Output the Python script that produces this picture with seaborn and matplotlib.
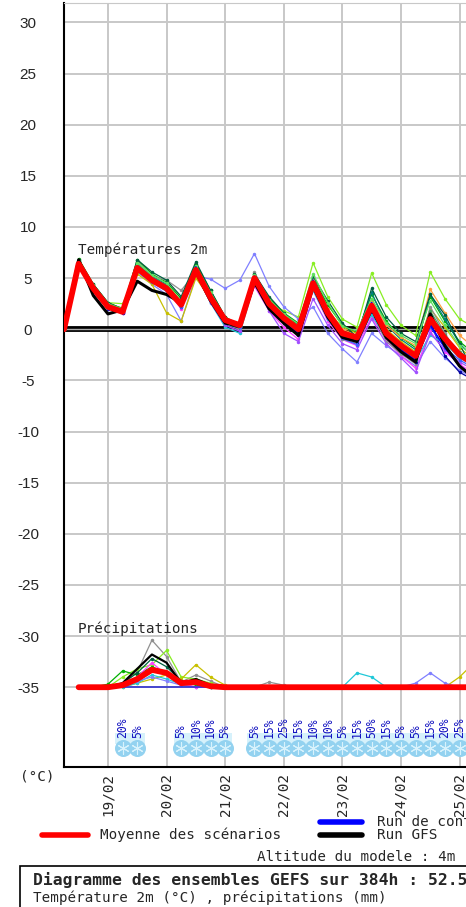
import numpy as np
import pandas as pd
import matplotlib
matplotlib.use("Agg")
import matplotlib.pyplot as plt
from matplotlib.patches import Rectangle
import seaborn as sns

# 6-hourly steps from 18/02 06h, in hours
hours = list(range(6, 180, 6))  # 29 steps

# 2m temperature (degC)
t_mean = [0, 6.4, 4.0, 2.2, 1.7, 6.0, 4.8, 4.0, 2.4, 5.8, 3.1, 0.9, 0.4, 5.0, 2.5,
          1.1, 0.0, 4.5, 1.6, -0.4, -0.8, 2.3, -0.4, -1.6, -2.6, 1.0, -0.9, -2.5, -3.4]
t_gfs = [0, 6.8, 3.3, 1.5, 1.9, 4.7, 3.8, 3.4, 2.6, 5.6, 2.8, 0.6, 0.3, 4.6, 2.0,
         0.6, -0.6, 4.2, 1.2, -0.8, -1.2, 2.0, -0.8, -2.2, -3.2, 1.5, -1.6, -3.6, -4.8]
t_ctrl = [0, 6.6, 3.9, 2.0, 1.8, 6.2, 5.0, 4.2, 2.2, 6.1, 3.0, 0.6, 0.2, 5.2, 2.4,
          0.8, -0.4, 4.8, 1.4, -0.6, -1.0, 2.6, -0.8, -2.0, -3.0, 0.4, -1.8, -3.6, -4.6]

t_members = {
    "p01": [0, 6.6, 4.0, 2.6, 2.5, 5.6, 4.6, 3.8, 2.8, 5.2, 2.8, 0.8, 0.6, 4.6, 2.6,
            1.8, 1.2, 6.5, 3.2, 1.0, 0.2, 5.5, 2.4, 0.4, -0.6, 5.6, 3.0, 1.0, 0.2],
    "p02": [0, 6.2, 3.6, 2.0, 1.6, 5.6, 4.4, 3.4, 0.8, 5.2, 4.9, 4.0, 4.8, 7.4, 4.2,
            2.2, 1.0, 2.2, -0.4, -1.9, -3.2, -0.4, -1.6, -2.6, -3.6, -1.2, -2.8, -4.0, -4.8],
    "p03": [0, 6.9, 4.4, 2.6, 2.0, 6.8, 5.4, 4.6, 3.0, 6.4, 3.8, 1.2, 0.4, 5.4, 3.0,
            1.6, 0.6, 5.0, 2.4, 0.4, -0.4, 3.4, 0.8, -0.8, -1.8, 3.2, 0.8, -1.2, -2.4],
    "p04": [0, 6.3, 3.8, 2.2, 1.6, 5.8, 4.6, 3.8, 2.0, 5.4, 2.8, 0.6, 0.2, 4.2, 1.8,
            0.2, -1.0, 3.8, 0.8, -1.0, -1.6, 1.2, -1.0, -2.6, -3.8, -0.2, -2.2, -3.4, -4.4],
    "p05": [0, 6.7, 4.2, 2.4, 1.8, 6.4, 5.2, 4.4, 2.6, 6.0, 3.4, 1.0, 0.4, 5.0, 2.8,
            1.2, 0.2, 5.0, 2.0, -0.2, -0.6, 3.6, 0.4, -1.0, -2.0, 3.4, 1.0, -1.4, -2.8],
    "p06": [0, 6.2, 4.0, 2.4, 2.1, 5.4, 4.4, 1.6, 0.8, 5.0, 3.0, 0.8, 0.6, 4.8, 2.6,
            1.4, 0.4, 4.0, 1.8, 0.2, -0.4, 2.0, 0.0, -1.2, -2.2, 2.0, 0.2, -1.8, -3.0],
    "p07": [0, 6.5, 4.2, 2.4, 1.8, 6.6, 5.2, 4.8, 3.8, 5.6, 2.8, 0.4, 0.0, 5.6, 2.8,
            0.8, -0.6, 4.6, 1.2, -1.0, -1.4, 1.6, -1.2, -2.4, -3.4, 2.2, -0.4, -2.6, -3.8],
    "p08": [0, 6.4, 3.8, 2.0, 1.6, 6.0, 4.8, 4.0, 2.2, 5.8, 2.8, 0.4, -0.2, 4.8, 2.2,
            0.6, -0.6, 4.4, 1.4, -0.6, -1.2, 1.6, -0.8, -2.0, -3.2, 0.6, -2.6, -4.2, -5.0],
    "p09": [0, 6.6, 4.0, 2.2, 1.8, 6.2, 5.0, 4.2, 2.4, 5.6, 2.6, 0.2, -0.4, 4.4, 2.2,
            0.8, -0.4, 3.8, 1.0, -0.8, -0.8, 1.4, -0.8, -2.2, -3.0, -0.6, -1.4, -2.8, -3.6],
    "p10": [0, 6.5, 3.9, 2.2, 1.8, 6.1, 4.9, 4.1, 2.6, 5.9, 3.2, 1.0, 0.6, 5.1, 2.6,
            1.4, 0.4, 4.8, 2.0, 0.0, -0.6, 2.8, 0.4, -0.8, -1.6, 3.9, 1.6, -0.6, -1.8],
    "p11": [0, 6.8, 4.4, 2.6, 2.0, 6.8, 5.6, 4.8, 3.2, 6.6, 3.8, 1.2, 0.2, 5.4, 3.2,
            1.6, 0.4, 5.2, 2.8, 0.6, -0.8, 4.0, 1.2, -0.4, -1.2, 3.4, 1.4, -1.4, -4.4],
    "p12": [0, 6.3, 3.7, 2.1, 1.7, 5.9, 4.7, 3.9, 2.3, 5.5, 2.6, 0.4, -0.2, 4.6, 1.8,
            -0.4, -1.2, 3.0, 0.4, -1.4, -2.0, 1.0, -1.4, -2.8, -4.2, -0.4, -2.0, -3.2, -4.0],
    "p13": [0, 6.5, 4.1, 2.3, 1.9, 6.3, 5.1, 4.3, 2.5, 6.0, 3.3, 0.8, 0.3, 4.9, 2.4,
            1.0, -0.2, 4.3, 1.5, -0.5, -1.0, 2.4, -0.2, -1.4, -2.4, 1.8, -0.6, -2.2, -3.2],
    "p14": [0, 6.4, 3.9, 2.1, 1.7, 5.7, 4.6, 3.7, 2.2, 5.7, 3.0, 0.7, 0.2, 4.7, 2.3,
            0.9, -0.3, 4.1, 1.1, -0.9, -1.5, 1.8, -0.6, -1.8, -2.8, 0.2, -1.8, -3.0, -3.8],
    "p15": [0, 6.7, 4.3, 2.5, 2.0, 6.5, 5.3, 4.5, 2.7, 6.2, 3.6, 1.1, 0.5, 5.3, 2.9,
            1.5, 0.5, 5.4, 2.6, 0.3, -0.2, 3.0, 0.6, -0.6, -1.4, 2.8, 0.4, -1.6, -2.6],
}
member_colors = {
    "p01": "#88ee22", "p02": "#8080ff", "p03": "#00b000", "p04": "#ff40ff",
    "p05": "#008080", "p06": "#c8c000", "p07": "#909090", "p08": "#0000a0",
    "p09": "#20c8d8", "p10": "#ffa040", "p11": "#006040", "p12": "#a050ff",
    "p13": "#40a060", "p14": "#4060ff", "p15": "#60e060",
}

# precipitation (mm), from 18/02 12h onward (idx 1..28)
p_mean = [0, 0, 0, 0.2, 0.8, 1.7, 1.4, 0.4, 0.5, 0.1, 0, 0, 0, 0,
          0, 0, 0, 0, 0, 0, 0, 0, 0, 0, 0, 0, 0, 0]
p_gfs = [0, 0, 0, 0.4, 1.8, 3.2, 2.4, 0.4, 0.8, 0.2, 0, 0, 0, 0,
         0, 0, 0, 0, 0, 0, 0, 0, 0, 0, 0, 0, 0, 0]
p_members = {
    "p07": [0, 0, 0, 0.3, 1.5, 4.6, 3.0, 0.5, 1.2, 0.6, 0, 0, 0, 0.5,
            0.2, 0, 0, 0, 0, 0, 0, 0, 0, 0, 0, 0, 0, 0],
    "p01": [0, 0, 0, 1.0, 1.8, 2.2, 3.6, 1.0, 0.8, 0.4, 0, 0, 0, 0,
            0, 0, 0, 0, 0, 0, 0, 0, 0, 0, 0, 0, 0, 0],
    "p06": [0, 0, 0, 0, 0.4, 0.8, 1.2, 0.8, 2.2, 1.0, 0.2, 0, 0, 0,
            0, 0, 0, 0, 0, 0, 0, 0, 0, 0, 0, 0, 1.0, 2.4],
    "p09": [0, 0, 0, 0, 0.4, 1.2, 0.8, 0.3, 0, 0, 0, 0, 0, 0,
            0, 0, 0, 0, 0, 1.4, 1.0, 0, 0, 0, 0, 0, 0, 0],
    "p02": [0, 0, 0, 0.2, 0.6, 1.0, 0.6, 0.2, 0, 0, 0, 0, 0, 0,
            0, 0, 0, 0, 0, 0, 0, 0, 0, 0.4, 1.4, 0.4, 0, 0],
    "p03": [0, 0, 0.3, 1.6, 1.2, 2.0, 1.4, 0.6, 0.2, 0, 0, 0, 0, 0,
            0, 0, 0, 0, 0, 0, 0, 0, 0, 0, 0, 0, 0, 0],
    "p04": [0, 0, 0, 0.2, 1.0, 2.4, 1.2, 0.4, 0, 0, 0, 0, 0, 0,
            0, 0, 0, 0, 0, 0, 0, 0, 0, 0, 0, 0, 0, 0],
    "p11": [0, 0, 0, 0.4, 1.4, 2.8, 2.0, 0.6, 0.4, 0, 0, 0, 0, 0,
            0, 0, 0, 0, 0, 0, 0, 0, 0, 0, 0, 0, 0, 0],
}
p_offset = -35

# snow probability (idx in 6h steps, percent)
snow_idx = [4, 5, 8, 9, 10, 11, 13, 14, 15, 16, 17, 18, 19, 20, 21, 22, 23, 24, 25, 26, 27]
snow_pct = [20, 5, 5, 10, 10, 5, 5, 15, 25, 15, 10, 10, 5, 15, 50, 15, 5, 5, 15, 20, 25]

day_ticks = [1, 2, 3, 4, 5, 6, 7]
day_labels = ["19/02", "20/02", "21/02", "22/02", "23/02", "24/02", "25/02"]
y_ticks = list(range(-35, 31, 5))

W, H = 466, 907
days = [h / 24 for h in hours]

sns.set_style("white")
plt.rcParams["font.family"] = ["DejaVu Sans Mono"]
mono = "DejaVu Sans Mono"

fig = plt.figure(figsize=(W / 100, H / 100), dpi=100)
ax = fig.add_axes([64 / W, 1 - 767 / H, 1 - 64 / W, 764 / H])

# long tables for seaborn
rows = []
for name, vals in t_members.items():
    for d, v in zip(days, vals):
        rows.append((name, d, v))
df_t = pd.DataFrame(rows, columns=["member", "day", "value"])
rows = []
for name, vals in p_members.items():
    for d, v in zip(days[1:], vals):
        rows.append((name, d, v + p_offset))
df_p = pd.DataFrame(rows, columns=["member", "day", "value"])

ax.axhline(0, color="black", lw=4.2, zorder=1)
ax.axhline(0, color="#aaaaaa", lw=1.0, zorder=1)

for df in (df_t, df_p):
    sns.lineplot(data=df, x="day", y="value", hue="member", palette=member_colors,
                 marker="o", markersize=2.5, markeredgewidth=0, lw=0.9,
                 legend=False, ax=ax, zorder=2)

sns.lineplot(x=days[1:], y=[p_offset] * 28, color="#3030d0", lw=1.2, ax=ax, zorder=2)
sns.lineplot(x=days, y=t_ctrl, color="#0000ff", lw=1.2, ax=ax, zorder=3)
sns.lineplot(x=days, y=t_gfs, color="black", lw=2.2, ax=ax, zorder=3)
sns.lineplot(x=days[1:], y=[v + p_offset for v in p_gfs], color="black", lw=1.6,
             ax=ax, zorder=3)
sns.lineplot(x=days, y=t_mean, color="#ff0000", lw=4.2, ax=ax, zorder=4)
sns.lineplot(x=days[1:], y=[v + p_offset for v in p_mean], color="#ff0000", lw=4.2,
             ax=ax, zorder=4)

# snow band and flakes
groups = []
for i in snow_idx:
    if groups and i == groups[-1][-1] + 1:
        groups[-1].append(i)
    else:
        groups.append([i])
for g in groups:
    x0 = days[g[0]] - 0.125
    ax.add_patch(Rectangle((x0, -40.6), len(g) * 0.25, 1.1, color="#d6f1fb",
                           lw=0, zorder=1))
sx = [days[i] for i in snow_idx]
ax.scatter(sx, [-40.9] * len(sx), s=150, color="#93d2f0", lw=0, zorder=2)
ax.scatter(sx, [-40.9] * len(sx), s=70, marker=(6, 2, 0), color="#d8f2fc",
           lw=0.8, zorder=3)
for x, p in zip(sx, snow_pct):
    ax.text(x, -40.0, f"{p}%", rotation=90, ha="center", va="bottom",
            fontsize=8.3, color="#1010c0", family=mono, zorder=4)

ax.set_xlim(0.25, 0.25 + (W - 64) / 58.6)
ax.set_ylim(-42.8, 31.9)
ax.set_xticks(day_ticks)
ax.set_xticklabels(day_labels, rotation=90, family=mono, fontsize=10.3, va="top")
ax.set_yticks(y_ticks)
ax.set_yticklabels([str(v) for v in y_ticks], family="Liberation Sans", fontsize=11)
for lab in ax.get_yticklabels():
    lab.set_ha("center")
ax.tick_params(axis="y", length=0, pad=26)
ax.tick_params(axis="x", length=0, pad=4)
ax.grid(True, color="#c8c8c8", lw=1.4)
ax.set_axisbelow(True)
ax.set_xlabel("")
ax.set_ylabel("")
ax.spines["right"].set_visible(False)
ax.spines["top"].set_color("#c8c8c8")
ax.spines["left"].set_color("black")
ax.spines["left"].set_linewidth(1.5)
ax.spines["bottom"].set_color("black")
ax.spines["bottom"].set_linewidth(1.5)

ax.text(0.25 + 14 / 58.6, 7.8, "Températures 2m", fontsize=10.3, family=mono,
        va="center", ha="left")
ax.text(0.25 + 14 / 58.6, -29.3, "Précipitations", fontsize=10.3, family=mono,
        va="center", ha="left")


def fx(x):
    return x / W


def fy(y):
    return 1 - y / H


fig.text(fx(20), fy(777), "(°C)", fontsize=10.3, family=mono, va="center")

# legend drawn by hand below the axes
fig.add_artist(plt.Line2D([fx(42), fx(88)], [fy(835), fy(835)], color="#ff0000", lw=4))
fig.text(fx(100), fy(835), "Moyenne des scénarios", fontsize=10.3, family=mono,
         va="center")
fig.add_artist(plt.Line2D([fx(320), fx(362)], [fy(822), fy(822)], color="#0000ff", lw=4))
fig.text(fx(377), fy(822), "Run de contrôle", fontsize=10.3, family=mono, va="center")
fig.add_artist(plt.Line2D([fx(320), fx(362)], [fy(835), fy(835)], color="black", lw=4))
fig.text(fx(377), fy(835), "Run GFS", fontsize=10.3, family=mono, va="center")
fig.text(fx(455), fy(857), "Altitude du modele : 4m", fontsize=10.3, family=mono,
         va="center", ha="right")

fig.add_artist(Rectangle((fx(20), fy(930)), 1.2, (930 - 866) / H, fill=False,
                         ec="black", lw=1.2, transform=fig.transFigure))
fig.text(fx(33), fy(880), "Diagramme des ensembles GEFS sur 384h : 52.5N 0.0E",
         fontsize=11.8, family=mono, weight="bold", va="center")
fig.text(fx(33), fy(898), "Température 2m (°C) , précipitations (mm)", fontsize=10.3,
         family=mono, va="center")

fig.savefig("out.png", dpi=100)
